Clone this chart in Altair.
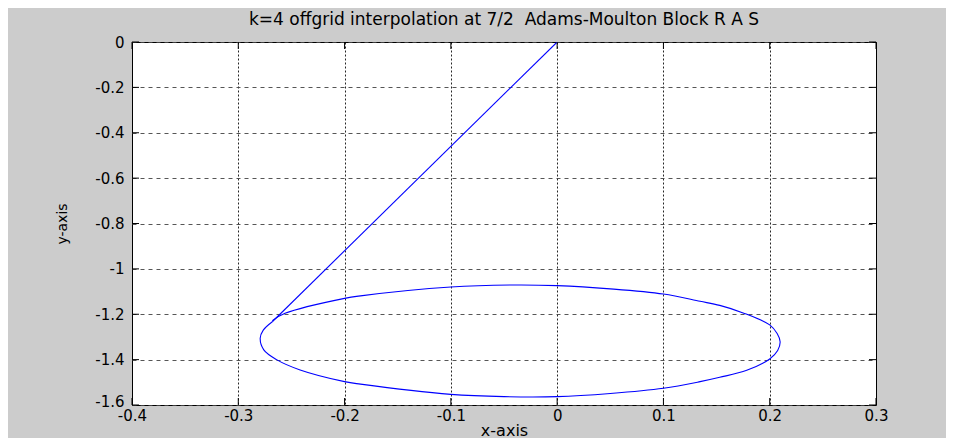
import altair as alt
import pandas as pd

# ---- data ----
# straight segment from the origin to the loop
seg_x = [0.0, -0.268]
seg_y = [0.0, -1.233]
# closed loop, traced from the junction downwards, round the right end and back
loop_x = [-0.268, -0.2765, -0.2794, -0.276, -0.264, -0.2418, -0.2, -0.185,
          -0.1, -0.05, 0.0, 0.05, 0.1, 0.1345, 0.153, 0.1784, 0.2, 0.2075, 0.2098,
          0.207, 0.2, 0.175, 0.153, 0.1345, 0.1, 0.05, 0.0, -0.04, -0.1, -0.185,
          -0.2, -0.256, -0.268]
loop_y = [-1.233, -1.27, -1.306, -1.357, -1.40, -1.4456, -1.497, -1.508,
          -1.553, -1.563, -1.563, -1.549, -1.526, -1.497, -1.478, -1.447, -1.397, -1.36, -1.321,
          -1.285, -1.247, -1.194, -1.161, -1.143, -1.111, -1.088, -1.074, -1.071, -1.080, -1.119,
          -1.13, -1.196, -1.228]

x_ticks = [-0.4, -0.3, -0.2, -0.1, 0.0, 0.1, 0.2, 0.3]
y_ticks = [0.0, -0.2, -0.4, -0.6, -0.8, -1.0, -1.2, -1.4, -1.6]

title_text = "k=4 offgrid interpolation at 7/2 \u00a0Adams-Moulton Block R A S"
x_title = "x-axis"
y_title = "y-axis"

W, H = 744, 363
FONT = "DejaVu Sans"
FS = 15

seg = pd.DataFrame({"x": seg_x, "y": seg_y, "i": list(range(len(seg_x)))})
loop = pd.DataFrame({"x": loop_x, "y": loop_y, "i": list(range(len(loop_x)))})
xt = pd.DataFrame({"v": x_ticks})
yt = pd.DataFrame({"v": y_ticks})

xscale = alt.Scale(domain=[-0.4, 0.3], nice=False, zero=False)
yscale = alt.Scale(domain=[-1.6, 0.0], nice=False, zero=False)

xaxis = alt.Axis(values=x_ticks, labelExpr="toString(datum.value)", grid=True,
                 gridColor="#000000", gridDash=[2, 2], gridOpacity=0.85, gridWidth=1,
                 ticks=False, domain=False, labelPadding=3, labelFont=FONT, labelFontSize=FS,
                 labelColor="#000000", title=x_title, titleFont=FONT, titleFontSize=16,
                 titleFontWeight="normal", titleColor="#000000", titleX=W / 2, titleY=25,
                 titleBaseline="middle", titleAlign="center", labelFlush=False)
yaxis = alt.Axis(values=y_ticks, labelExpr="toString(datum.value)", grid=True,
                 gridColor="#444444", gridDash=[4, 4], gridOpacity=0.9, gridWidth=1,
                 ticks=False, domain=False, labelPadding=8, labelFont=FONT, labelFontSize=FS,
                 labelOffset=alt.ExprRef(expr="datum.value == -1.6 ? -4 : 0"),
                 labelColor="#000000", title=y_title, titleFont=FONT, titleFontSize=14,
                 titleFontWeight="normal", titleColor="#000000", titleX=-70, titleY=H / 2,
                 titleBaseline="middle", titleAlign="center", titleAngle=-90, labelFlush=False)

X = lambda f: alt.X(f, scale=xscale, axis=xaxis)
Y = lambda f: alt.Y(f, scale=yscale, axis=yaxis)

seg_line = alt.Chart(seg).mark_line(color="#0000ff", strokeWidth=1.1, clip=True).encode(
    x=X("x:Q"), y=Y("y:Q"), order="i:Q")
loop_line = alt.Chart(loop).mark_line(color="#0000ff", strokeWidth=1.1, clip=True,
                                      interpolate="catmull-rom").encode(
    x=X("x:Q"), y=Y("y:Q"), order="i:Q")

tick_len = 7
bt = alt.Chart(xt).mark_rule(color="#000000", strokeWidth=1).encode(
    x=X("v:Q"), y=alt.value(H), y2=alt.value(H - tick_len))
tt = alt.Chart(xt).mark_rule(color="#000000", strokeWidth=1).encode(
    x=X("v:Q"), y=alt.value(0), y2=alt.value(tick_len))
lt = alt.Chart(yt).mark_rule(color="#000000", strokeWidth=1).encode(
    y=Y("v:Q"), x=alt.value(0), x2=alt.value(tick_len))
rt = alt.Chart(yt).mark_rule(color="#000000", strokeWidth=1).encode(
    y=Y("v:Q"), x=alt.value(W), x2=alt.value(W - tick_len))

chart = alt.layer(seg_line, loop_line, bt, tt, lt, rt).properties(
    width=W, height=H,
    autosize=alt.AutoSizeParams(type="none"),
    padding={"left": 124, "top": 34, "right": 70, "bottom": 33},
    title=alt.TitleParams(title_text, font=FONT, fontSize=17, fontWeight="normal",
                          color="#000000", anchor="middle", frame="group", offset=6),
).configure(background="#cccccc").configure_view(
    fill="#ffffff", stroke="#000000", strokeWidth=1
)

chart.save("out.html", embed_options={"renderer": "svg", "actions": False})
